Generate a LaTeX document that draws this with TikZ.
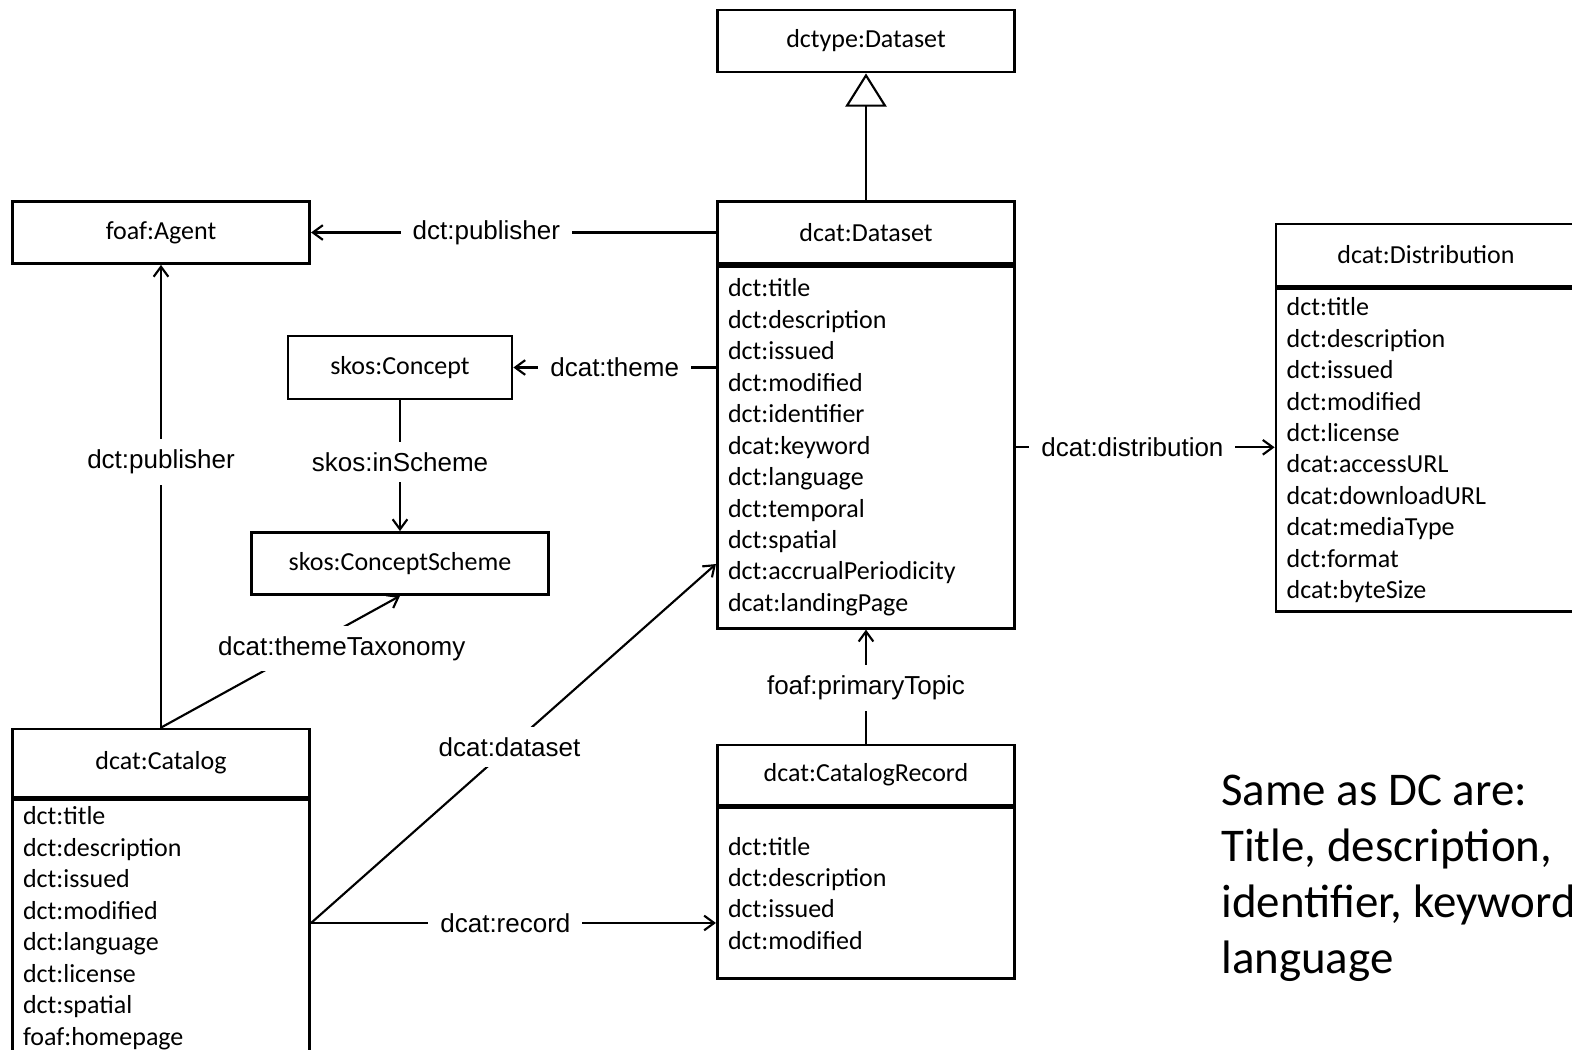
\documentclass[tikz,border=0pt]{standalone}
\usepackage{fontspec}
\setmainfont{Carlito}
\newfontfamily\arialfont{Liberation Sans}
\usetikzlibrary{positioning,arrows.meta,calc}

\begin{document}
\begin{tikzpicture}[x=0.75pt, y=-0.75pt, >={Straight Barb[length=7.5pt,width=11pt]},
  classhead/.style={draw, line width=2.1pt, minimum width=223pt, minimum height=46.5pt, font=\fontsize{19.5}{23.6}\selectfont},
  classbody/.style={draw, line width=2.1pt, align=left, text width=207pt, inner xsep=8pt, font=\fontsize{19.5}{23.6}\selectfont},
  link/.style={line width=1.6pt},
  lbl/.style={fill=white, inner xsep=9pt, inner ysep=8pt, font=\arialfont\fontsize{19.5}{23}\selectfont}]
% Page
\useasboundingbox (0,0) rectangle (1572,1050);

% Classes
\node[classhead] (dctype) at (866,41) {dctype:Dataset};
\node[classhead] (dataset) at (866,232.5) {dcat:Dataset};
\node[classbody, minimum height=271.5pt, below=0pt of dataset] (datasetattr) {dct:title\\dct:description\\dct:issued\\dct:modified\\dct:identifier\\dcat:keyword\\dct:language\\dct:temporal\\dct:spatial\\dct:accrualPeriodicity\\dcat:landingPage};
\node[classhead] (agent) at (161,232.5) {foaf:Agent};
\node[classhead, minimum width=168pt, minimum height=47.25pt] (concept) at (400,367.5) {skos:Concept};
\node[classhead] (scheme) at (400,563.5) {skos:ConceptScheme};
\node[classhead, minimum height=51pt] (catalog) at (161,763) {dcat:Catalog};
\node[classbody, minimum height=192.75pt, below=0pt of catalog] (catalogattr) {dct:title\\dct:description\\dct:issued\\dct:modified\\dct:language\\dct:license\\dct:spatial\\foaf:homepage};
\node[classhead, minimum height=45pt] (record) at (866,775) {dcat:CatalogRecord};
\node[classbody, minimum height=128.25pt, below=0pt of record] (recordattr) {dct:title\\dct:description\\dct:issued\\dct:modified};
\node[classhead, minimum width=225pt] (dist) at (1426,255) {dcat:Distribution};
\node[classbody, text width=209pt, minimum height=242.25pt, below=0pt of dist] (distattr) {dct:title\\dct:description\\dct:issued\\dct:modified\\dct:license\\dcat:accessURL\\dcat:downloadURL\\dcat:mediaType\\dct:format\\dcat:byteSize};

% Note
\node[anchor=west, align=left, inner sep=0pt, font=\fontsize{35.2}{42}\selectfont] (note) at (1221,878) {Same as DC are:\\Title, description,\\identifier, keyword,\\language};

% Links
\draw[link, -{Triangle[open, length=25pt, width=31pt]}] (dataset) -- (dctype);
\draw[link, ->] (dataset.west) -- node[lbl, pos=0.567] {dct:publisher} (agent.east);
\draw[link, ->] (concept.east -| datasetattr.west) -- node[lbl, pos=0.5] {dcat:theme} (concept.east);
\draw[link, ->] (concept) -- node[lbl, pos=0.47] {skos:inScheme} (scheme);
\draw[link, ->] (catalog) -- node[lbl, pos=0.574] {dct:publisher} (agent);
\draw[link, ->] (catalog.north) -- node[lbl, pos=0.6, xshift=28pt] {dcat:themeTaxonomy} (scheme.south);
\coordinate (catout) at ([yshift=4pt]catalogattr.east);
\draw[link, ->] (catout) -- node[lbl, pos=0.49] {dcat:dataset} ($(datasetattr.north west)!0.82!(datasetattr.south west)$);
\draw[link, ->] (catout) -- node[lbl, pos=0.48] {dcat:record} (catout -| recordattr.west);
\draw[link, ->] (record) -- node[lbl, pos=0.49] {foaf:primaryTopic} (datasetattr);
\draw[link, ->] (datasetattr.east) -- node[lbl, pos=0.45] {dcat:distribution} (datasetattr.east -| distattr.west);
\end{tikzpicture}
\end{document}
